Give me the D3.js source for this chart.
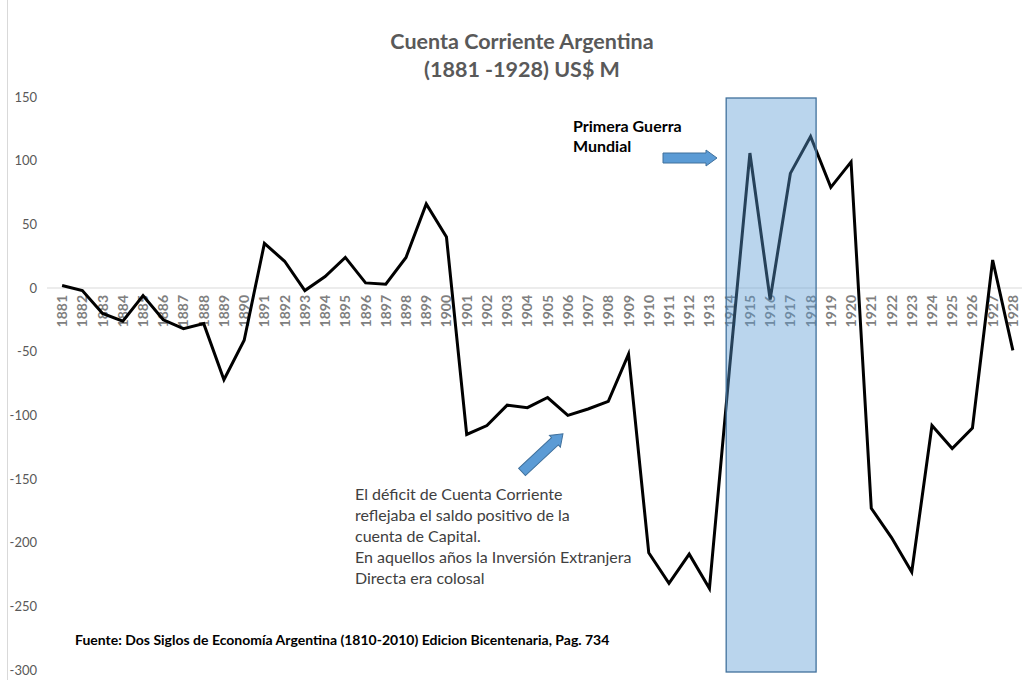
<!DOCTYPE html>
<html><head><meta charset="utf-8">
<script src="https://cdn.jsdelivr.net/npm/d3@7"></script>
<style>body{margin:0;background:#fff}svg{display:block}</style>
</head><body>
<svg id="c" width="1025" height="680"></svg>
<script>
const years = d3.range(1881, 1929).map(String);
const values = [2,-2,-20,-26,-6,-25,-32,-28,-72,-41,35,21,-2,9,24,4,3,24,66,40,-115,-108,-92,-94,-86,-100,-95,-89,-52,-208,-232,-209,-236,-62,106,-9,90,119,79,99,-173,-196,-223,-108,-126,-110,22,-49];
const yTicks = [150,100,50,0,-50,-100,-150,-200,-250,-300];
const titleLines = ["Cuenta Corriente Argentina","(1881 -1928) US$ M"];
const warLabel = ["Primera Guerra","Mundial"];
const warYears = ["1914","1918"];
const noteLines = ["El déficit de Cuenta Corriente","reflejaba el saldo positivo de la","cuenta de Capital.","En aquellos años la Inversión Extranjera","Directa era colosal"];
const sourceText = "Fuente: Dos Siglos de Economía Argentina (1810-2010) Edicion Bicentenaria,  Pag. 734";

const svg = d3.select("#c");
const font = "Lato, 'Open Sans', sans-serif";
const x = d3.scaleBand().domain(years).range([52,1023]);
const y = d3.scaleLinear().domain([-300,150]).range([670,97]);
const cx = d => x(d) + x.bandwidth()/2;

// left frame line
svg.append("line").attr("x1",7.5).attr("x2",7.5).attr("y1",0).attr("y2",680).attr("stroke","#d9d9d9");

// title
svg.append("text").attr("x",522).attr("y",49).attr("text-anchor","middle")
  .attr("font-family",font).attr("font-size",21.5).attr("font-weight","bold").attr("fill","#595959")
  .selectAll("tspan").data(titleLines).join("tspan").attr("x",522).attr("dy",(d,i)=>i?28:0).text(d=>d);

// y axis labels
svg.append("g").selectAll("text").data(yTicks).join("text")
  .attr("x",37).attr("y",d=>y(d)+4.5).attr("text-anchor","end")
  .attr("font-family",font).attr("font-size",13).attr("fill","#595959").text(d=>d);

// zero line
svg.append("line").attr("x1",47).attr("x2",1022).attr("y1",y(0)).attr("y2",y(0)).attr("stroke","#d9d9d9").attr("stroke-width",1);

// x labels
svg.append("g").selectAll("text").data(years).join("text")
  .attr("transform",d=>`translate(${cx(d)+5},${y(0)+7}) rotate(-90)`)
  .attr("text-anchor","end").attr("font-family",font).attr("font-size",14).attr("font-weight","bold")
  .attr("fill","#7f7f7f").text(d=>d);

// line
const line = d3.line().x((d,i)=>cx(years[i])).y(d=>y(d));
svg.append("path").datum(values).attr("d",line).attr("fill","none").attr("stroke","#000").attr("stroke-width",3).attr("stroke-linejoin","miter");

// shaded war rectangle
const rx0 = cx(warYears[0]) - 3.5, rx1 = cx(warYears[1]) + 5.5;
svg.append("rect").attr("x",rx0).attr("y",y(150)+1).attr("width",rx1-rx0).attr("height",y(-300)-y(150)+1)
  .attr("fill","#5b9bd5").attr("fill-opacity",0.42).attr("stroke","#41719c").attr("stroke-width",1.3);

// war label
svg.append("text").attr("font-family",font).attr("font-size",16).attr("font-weight","bold").attr("fill","#000")
  .selectAll("tspan").data(warLabel).join("tspan").attr("x",573).attr("y",(d,i)=>132+i*20).text(d=>d);

// block arrow helper
function blockArrow(x0,y0,len,angle){
  const sw=5, hw=8, hl=11;
  const g = svg.append("g").attr("transform",`translate(${x0},${y0}) rotate(${angle})`);
  g.append("path").attr("d",`M0,${-sw}L${len-hl},${-sw}L${len-hl},${-hw}L${len},0L${len-hl},${hw}L${len-hl},${sw}L0,${sw}Z`)
    .attr("fill","#5b9bd5").attr("stroke","#41719c").attr("stroke-width",1);
}
blockArrow(663,158,54,0);
blockArrow(522,472,56,-43);

// note
svg.append("text").attr("font-family",font).attr("font-size",16).attr("fill","#404040")
  .selectAll("tspan").data(noteLines).join("tspan").attr("x",355).attr("y",(d,i)=>500+i*21).text(d=>d);

// source
svg.append("text").attr("x",75).attr("y",645).attr("font-family",font).attr("font-size",14).attr("font-weight","bold").attr("fill","#000").text(sourceText);
</script>
</body></html>
